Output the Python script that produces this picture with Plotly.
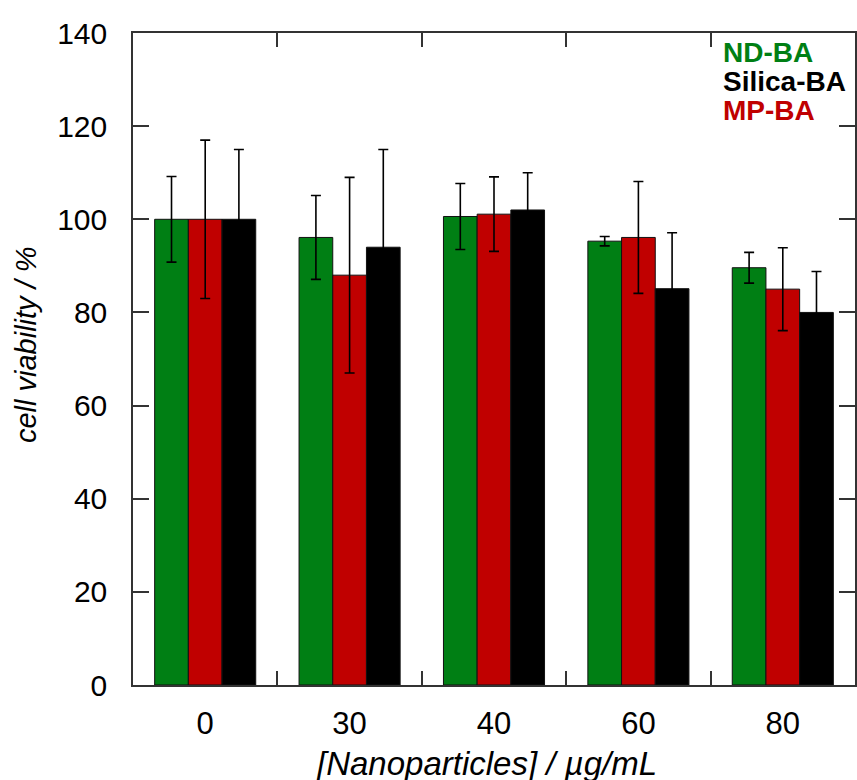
import plotly.graph_objects as go

categories = ["0", "30", "40", "60", "80"]

nd_ba = [100.0, 96.1, 100.6, 95.3, 89.6]
nd_ba_err = [9.2, 9.0, 7.1, 1.0, 3.3]

mp_ba = [100.0, 88.0, 101.1, 96.1, 85.0]
mp_ba_err = [17.0, 21.0, 8.0, 12.0, 8.9]

silica_ba = [100.0, 94.0, 102.0, 85.1, 80.0]
silica_ba_err = [15.0, 21.0, 8.0, 12.0, 8.8]

y_ticks = [0, 20, 40, 60, 80, 100, 120, 140]

series = [
    ("ND-BA", nd_ba, nd_ba_err, "#007F14"),
    ("MP-BA", mp_ba, mp_ba_err, "#C00000"),
    ("Silica-BA", silica_ba, silica_ba_err, "#000000"),
]
legend_order = ["ND-BA", "Silica-BA", "MP-BA"]
colors = {name: c for name, _, _, c in series}

fig = go.Figure()
for name, vals, errs, col in series:
    fig.add_trace(go.Bar(
        x=categories, y=vals, name=name,
        marker=dict(color=col, line=dict(color="#111111", width=1)),
        error_y=dict(type="data", array=errs, visible=True,
                     color="#000000", thickness=1.6, width=5),
        showlegend=False,
    ))

font_family = "Liberation Sans, Arial, sans-serif"

for i, name in enumerate(legend_order):
    fig.add_annotation(
        x=0.815, y=0.97 - i * 0.0445, xref="paper", yref="paper",
        xanchor="left", yanchor="middle", showarrow=False,
        text="<b>%s</b>" % name,
        font=dict(family=font_family, size=28, color=colors[name]),
    )

# axis titles as annotations for exact placement
fig.add_annotation(
    x=-0.149, y=0.522, xref="paper", yref="paper",
    xanchor="center", yanchor="middle", showarrow=False, textangle=-90,
    text="<i>cell viability / %</i>",
    font=dict(size=29, family=font_family, color="#000000"),
)
fig.add_annotation(
    x=0.489, y=-0.121, xref="paper", yref="paper",
    xanchor="center", yanchor="middle", showarrow=False,
    text="<i>[Nanoparticles] / µg/mL</i>",
    font=dict(size=33, family=font_family, color="#000000"),
)

fig.update_layout(
    width=857, height=780,
    margin=dict(l=133, r=0, t=33, b=95),
    paper_bgcolor="white", plot_bgcolor="white",
    barmode="group", bargap=0.3, bargroupgap=0,
    font=dict(family=font_family, color="#000000"),
)

fig.update_xaxes(
    type="category", range=[-0.5, 4.5],
    tickson="boundaries", ticks="inside", ticklen=14, tickwidth=1.5, tickcolor="#333333",
    showline=True, linecolor="#333333", linewidth=1.5, mirror="ticks",
    showgrid=False, zeroline=False,
    tickfont=dict(size=31, family=font_family, color="#000000"),
    ticklabelstandoff=10,
)

fig.update_yaxes(
    range=[0, 140], tickvals=y_ticks,
    ticks="inside", ticklen=16, tickwidth=1.5, tickcolor="#333333",
    showline=True, linecolor="#333333", linewidth=1.5, mirror="ticks",
    showgrid=False, zeroline=False,
    tickfont=dict(size=30, family=font_family, color="#000000"),
    ticklabelstandoff=18,
)

fig.write_html("out.html")
